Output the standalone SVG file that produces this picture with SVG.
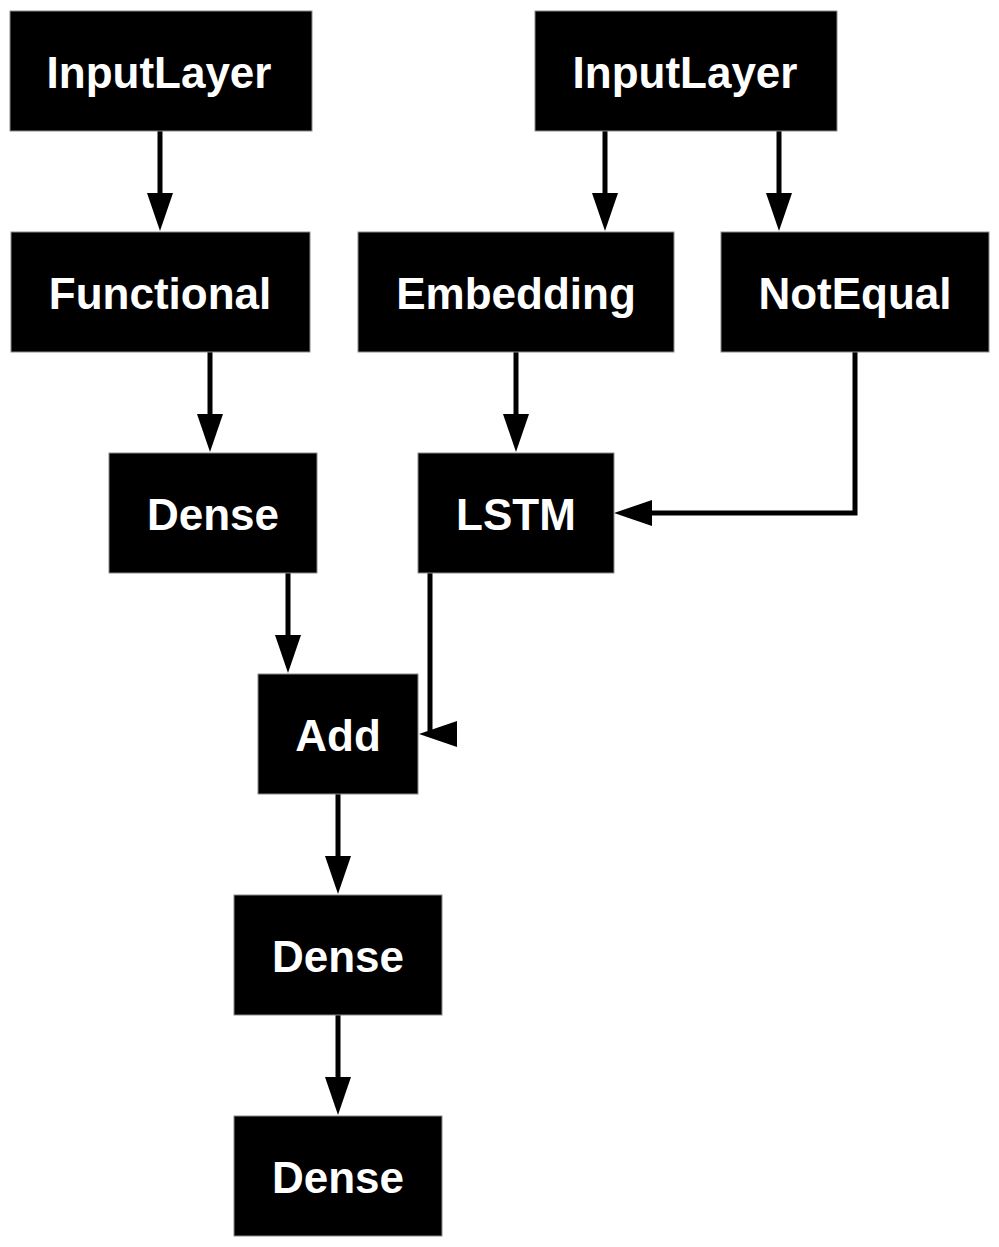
<svg xmlns="http://www.w3.org/2000/svg" width="999" height="1247" viewBox="0 0 999 1247">
<style>
.node rect{fill:#000;stroke:#8a8a8a;stroke-width:1}
.node text{fill:#fff;font-family:"Liberation Sans",Arial,Helvetica,sans-serif;font-weight:bold;font-size:44px;text-anchor:middle}
.edge{fill:none;stroke:#000;stroke-width:5}
.edge.a{marker-end:url(#ah)}
.head{fill:#000}
</style>
<defs>
<marker id="ah" markerUnits="userSpaceOnUse" markerWidth="40" markerHeight="28" refX="0" refY="13" orient="auto" overflow="visible">
<path d="M0,0 L38,13 L0,26 Z" fill="#000"/>
</marker>
</defs>
<rect width="999" height="1247" fill="#fff"/>
<g id="connectors">
<path class="edge a" d="M160,131 L160,193"/>
<path class="edge a" d="M605,131 L605,193"/>
<path class="edge a" d="M779,131 L779,193"/>
<path class="edge a" d="M210,352 L210,414"/>
<path class="edge a" d="M516,352 L516,414"/>
<path class="edge a" d="M855,352 L855,513 L652,513"/>
<path class="edge a" d="M288,573 L288,635"/>
<path class="edge" d="M430,573 L430,731"/>
<path class="head" d="M457,721 L419,734 L457,747 Z"/>
<path class="edge a" d="M338,794 L338,856"/>
<path class="edge a" d="M338,1015 L338,1077"/>
</g>
<g id="input1" class="node"><rect x="10" y="11" width="302" height="120"/><text x="159" y="88">InputLayer</text></g>
<g id="input2" class="node"><rect x="535" y="11" width="302" height="120"/><text x="685" y="88">InputLayer</text></g>
<g id="functional" class="node"><rect x="11" y="232" width="299" height="120"/><text x="160" y="309">Functional</text></g>
<g id="embedding" class="node"><rect x="358" y="232" width="316" height="120"/><text x="516" y="309">Embedding</text></g>
<g id="notequal" class="node"><rect x="721" y="232" width="268" height="120"/><text x="855" y="309">NotEqual</text></g>
<g id="dense1" class="node"><rect x="109" y="453" width="208" height="120"/><text x="213" y="530">Dense</text></g>
<g id="lstm" class="node"><rect x="418" y="453" width="196" height="120"/><text x="516" y="530">LSTM</text></g>
<g id="add" class="node"><rect x="258" y="674" width="160" height="120"/><text x="338" y="751">Add</text></g>
<g id="dense2" class="node"><rect x="234" y="895" width="208" height="120"/><text x="338" y="972">Dense</text></g>
<g id="dense3" class="node"><rect x="234" y="1116" width="208" height="120"/><text x="338" y="1193">Dense</text></g>
</svg>
